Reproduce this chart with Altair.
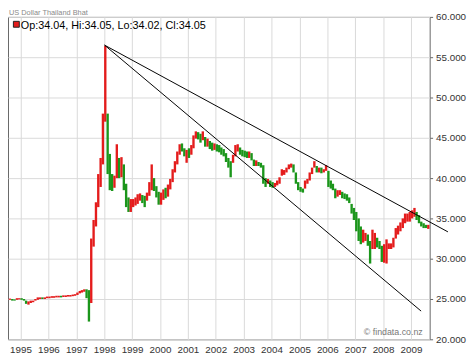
import altair as alt
import pandas as pd

FONT = "Liberation Sans"
RED = "#e41c1c"
GREEN = "#1b961b"

# Monthly bars, Aug 1994 .. Aug 2009
first_month = "1994-08-01"
low = [
    24.9, 24.8, 24.8, 24.9, 24.95,                                            # 1994 Aug-Dec
    24.9, 24.8, 24.4, 24.3, 24.5, 24.6, 24.8, 24.9, 25.0, 25.0, 25.0, 25.1,   # 1995
    25.1, 25.15, 25.15, 25.2, 25.2, 25.2, 25.25, 25.25, 25.3, 25.3, 25.35, 25.4,  # 1996
    25.5, 25.7, 25.8, 25.9, 25.1, 22.2, 24.5, 31.5, 34.0, 36.4, 38.9, 41.7,   # 1997
    47.0, 40.5, 38.5, 38.4, 38.8, 40.0, 40.0, 40.1, 38.5, 36.4, 35.8, 35.8,   # 1998
    36.4, 36.6, 36.8, 37.2, 36.9, 36.4, 37.2, 37.8, 38.5, 38.4, 37.6, 36.7,   # 1999
    36.7, 37.3, 37.5, 37.7, 38.6, 39.5, 40.7, 41.7, 42.9, 43.3, 42.7, 41.9,   # 2000
    42.5, 42.9, 43.7, 44.9, 44.8, 44.4, 44.7, 43.9, 43.9, 43.6, 43.4, 43.5,   # 2001
    43.3, 43.2, 42.9, 42.7, 42.0, 41.3, 40.1, 41.9, 42.7, 43.3, 42.9, 42.7,   # 2002
    42.6, 42.5, 42.5, 42.2, 41.5, 41.5, 41.5, 41.3, 39.3, 38.9, 39.3, 38.9,   # 2003
    38.8, 38.9, 39.1, 39.3, 40.3, 40.4, 40.7, 41.1, 41.3, 40.7, 39.3, 38.5,   # 2004
    38.3, 38.2, 38.7, 39.3, 39.7, 40.5, 41.3, 40.7, 40.7, 40.6, 40.7, 40.9,   # 2005
    38.9, 38.7, 38.5, 37.5, 37.7, 37.9, 37.5, 37.4, 37.2, 36.9, 35.6, 34.8,   # 2006
    33.4, 32.2, 31.8, 32.0, 32.2, 31.6, 29.4, 31.2, 31.2, 31.4, 31.2, 29.6,   # 2007
    29.5, 29.4, 31.2, 31.2, 31.4, 32.5, 33.0, 33.4, 33.8, 34.4, 34.6, 34.6,   # 2008
    35.0, 35.2, 34.8, 34.4, 34.0, 33.8, 33.8, 33.7,                           # 2009 Jan-Aug
]
high = [
    25.05, 25.0, 24.95, 25.1, 25.1,
    25.1, 25.0, 24.8, 24.7, 24.8, 24.8, 25.0, 25.2, 25.2, 25.2, 25.2, 25.3,
    25.3, 25.35, 25.35, 25.4, 25.4, 25.4, 25.45, 25.45, 25.5, 25.5, 25.55, 25.6,
    25.8, 26.0, 26.1, 26.2, 26.2, 26.1, 32.5, 34.8, 37.0, 40.5, 42.5, 48.0,
    56.4, 48.0, 43.0, 40.5, 40.3, 44.2, 42.5, 42.6, 41.7, 39.3, 37.6, 37.4,
    37.4, 37.6, 38.0, 38.1, 37.9, 37.8, 38.2, 39.5, 41.7, 40.0, 39.0, 38.3,
    38.2, 38.6, 38.8, 39.2, 39.9, 41.1, 42.1, 43.3, 44.2, 44.3, 43.7, 43.5,
    43.7, 44.1, 45.3, 45.8, 45.7, 45.5, 45.8, 45.1, 44.9, 44.6, 44.4, 44.3,
    44.2, 44.1, 43.8, 43.6, 43.1, 42.5, 42.1, 42.9, 44.1, 44.2, 43.8, 43.5,
    43.4, 43.3, 43.3, 43.1, 42.3, 42.2, 42.0, 41.9, 41.6, 40.0, 39.9, 39.7,
    39.5, 39.4, 39.7, 40.1, 41.1, 41.0, 41.3, 41.7, 41.8, 41.7, 40.7, 39.5,
    38.9, 38.7, 39.7, 39.9, 40.7, 41.3, 42.1, 41.5, 41.3, 41.3, 41.1, 41.6,
    40.9, 39.7, 39.3, 38.7, 38.5, 38.5, 38.3, 38.1, 38.0, 37.6, 36.8, 36.3,
    35.8, 35.0, 34.0, 33.6, 33.2, 33.0, 32.2, 33.6, 33.2, 32.6, 32.2, 31.6,
    31.8, 32.4, 31.9, 31.9, 32.6, 33.8, 34.1, 34.5, 35.0, 35.6, 35.6, 35.8,
    36.0, 36.3, 35.8, 35.4, 34.6, 34.4, 34.2, 34.2,
]
close = [
    25.0, 24.9, 24.85, 25.05, 25.05,
    25.0, 24.85, 24.5, 24.55, 24.65, 24.75, 24.95, 25.1, 25.15, 25.1, 25.15, 25.2,
    25.2, 25.25, 25.3, 25.3, 25.35, 25.3, 25.35, 25.4, 25.4, 25.45, 25.5, 25.5,
    25.7, 25.9, 26.0, 26.1, 25.8, 25.6, 32.0, 34.0, 36.5, 39.5, 40.5, 47.5,
    50.0, 43.5, 39.3, 39.0, 39.6, 42.0, 41.2, 42.0, 39.5, 37.5, 36.3, 36.4,
    36.9, 37.3, 37.6, 37.7, 37.3, 37.0, 37.8, 39.0, 39.8, 38.8, 38.0, 37.4,
    37.6, 38.2, 38.1, 38.9, 39.6, 40.8, 41.8, 43.0, 43.8, 43.6, 43.2, 43.3,
    43.0, 43.5, 45.0, 45.3, 45.2, 45.1, 45.2, 44.3, 44.4, 44.1, 43.9, 44.0,
    43.8, 43.6, 43.3, 43.1, 42.3, 41.7, 41.6, 42.6, 43.6, 43.6, 43.2, 43.0,
    42.9, 42.8, 42.9, 42.6, 41.8, 41.8, 41.7, 41.4, 39.8, 39.6, 39.6, 39.3,
    39.1, 39.2, 39.4, 39.9, 40.6, 40.7, 41.1, 41.5, 41.5, 41.0, 39.6, 38.9,
    38.6, 38.5, 39.4, 39.7, 40.4, 41.1, 41.6, 41.0, 41.0, 40.9, 40.9, 41.1,
    39.3, 39.0, 38.8, 37.8, 38.1, 38.2, 37.8, 37.7, 37.5, 37.0, 36.0, 35.4,
    34.0, 33.0, 32.5, 32.6, 32.6, 32.2, 30.5, 32.0, 32.4, 32.0, 31.6, 30.5,
    30.8, 31.4, 31.5, 31.6, 32.2, 33.4, 33.5, 34.2, 34.6, 35.0, 35.2, 35.3,
    35.6, 35.8, 35.2, 34.9, 34.3, 34.1, 34.0, 34.05,
]

# Trend lines (both start at the January 1998 peak)
trend_ids = ["upper", "upper", "lower", "lower"]
trend_dates = ["1998-01-05", "2010-04-29", "1998-01-05", "2009-05-13"]
trend_vals = [56.5, 33.33, 56.5, 23.5]

y_ticks = [20, 25, 30, 35, 40, 45, 50, 55, 60]
x_years = list(range(1995, 2010))

title_text = "US Dollar Thailand Bhat"
legend_text = "Op:34.04, Hi:34.05, Lo:34.02, Cl:34.05"
credit_text = "\u00a9 findata.co.nz"

dates = pd.date_range(first_month, periods=len(close), freq="MS") + pd.Timedelta(days=14)
opens = [25.0] + close[:-1]
bars_df = pd.DataFrame({
    "date": dates.strftime("%Y-%m-%d"),
    "lo": low, "hi": high, "op": opens, "cl": close,
})
bars_df["dir"] = ["up" if c >= o else "down" for o, c in zip(opens, close)]

trend_df = pd.DataFrame({"id": trend_ids, "date": trend_dates, "val": trend_vals})

x_scale = alt.Scale(
    type="utc",
    domain=[alt.DateTime(year=1994, month=7, date=21, utc=True),
            alt.DateTime(year=2009, month=9, date=2, utc=True)],
)
y_scale = alt.Scale(domain=[20, 60], nice=False, zero=False)

x_axis = alt.Axis(
    values=[alt.DateTime(year=y, month=1, date=1, utc=True) for y in x_years],
    format="%Y", title=None, ticks=False, domain=False, labelPadding=5,
    grid=True, gridColor="#d9d9d9", gridWidth=1,
    labelFont=FONT, labelFontSize=10, labelColor="#333333",
    labelOverlap=False, labelFlush=False,
)
y_axis = alt.Axis(
    orient="right", values=y_ticks, format=".3f", title=None, domain=False,
    tickSize=3, tickColor="#666666", labelPadding=3,
    grid=True, gridColor="#d9d9d9", gridWidth=1,
    labelFont=FONT, labelFontSize=10, labelColor="#333333",
    labelOverlap=False,
)

bars = alt.Chart(bars_df).mark_rule(strokeWidth=2.4).encode(
    x=alt.X("date:T", scale=x_scale, axis=x_axis),
    y=alt.Y("lo:Q", scale=y_scale, axis=y_axis),
    y2="hi:Q",
    color=alt.Color("dir:N", scale=alt.Scale(domain=["up", "down"], range=[RED, GREEN]), legend=None),
)

trend = alt.Chart(trend_df).mark_line(color="black", strokeWidth=1, clip=False).encode(
    x=alt.X("date:T", scale=x_scale, axis=x_axis),
    y=alt.Y("val:Q", scale=y_scale, axis=y_axis),
    detail="id:N",
)

one = pd.DataFrame({"title": [title_text], "legend": [legend_text], "credit": [credit_text]})

title = alt.Chart(one).mark_text(
    align="left", baseline="alphabetic", font=FONT, fontSize=7.5, color="#8a8a8a", clip=False
).encode(x=alt.value(1), y=alt.value(-1.5), text="title:N")

swatch = alt.Chart(one).mark_rect(fill=RED, stroke="#222222", strokeWidth=1).encode(
    x=alt.value(5.5), x2=alt.value(11.5), y=alt.value(4.5), y2=alt.value(10.5)
)

legend = alt.Chart(one).mark_text(
    align="left", baseline="alphabetic", font=FONT, fontSize=11, color="#000000"
).encode(x=alt.value(13), y=alt.value(12), text="legend:N")

credit = alt.Chart(one).mark_text(
    align="right", baseline="alphabetic", font=FONT, fontSize=9, color="#777777"
).encode(x=alt.value(422), y=alt.value(324), text="credit:N")

chart = alt.layer(bars, trend, title, swatch, legend, credit).properties(
    width=429, height=328,
    autosize=alt.AutoSizeParams(type="none"),
    padding={"left": 0, "top": 6, "right": 39, "bottom": 18},
    background="white",
).configure_view(stroke="#666666", strokeWidth=1)

chart.save("out.html", embed_options={"renderer": "svg", "actions": False})
